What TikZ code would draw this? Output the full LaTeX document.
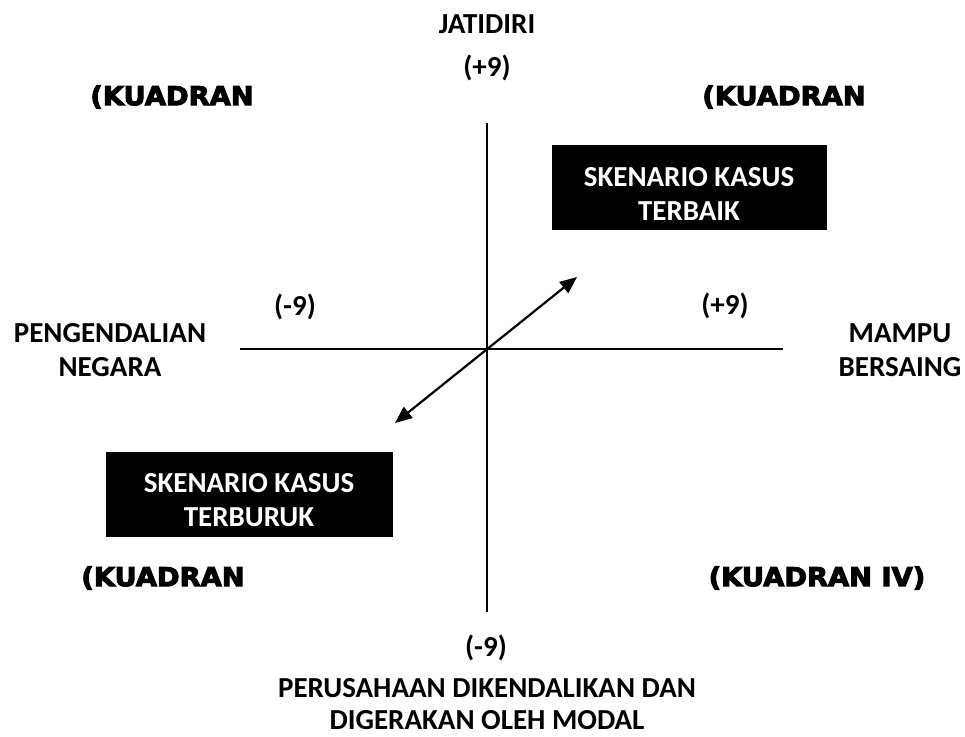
\documentclass[tikz,border=0pt]{standalone}
\usepackage{fontspec}
\setmainfont{Carlito}
\newfontfamily\quadfont{DejaVu Sans}[BoldFeatures={FakeBold=4,FakeStretch=1.05}]
\usepackage{tikz}
\usetikzlibrary{positioning,arrows.meta}
\usepackage{xcolor}
\definecolor{scenbg}{RGB}{0,0,0}

\tikzset{
  axislabel/.style={font=\fontsize{29}{34}\selectfont\bfseries,align=center,inner sep=0pt},
  quadlabel/.style={font=\quadfont\fontsize{26}{30}\selectfont\bfseries,inner sep=0pt},
  scenbox/.style={rectangle,fill=scenbg,text=white,font=\fontsize{29}{34}\selectfont\bfseries,
      align=center,minimum width=275pt,minimum height=85pt,inner sep=0pt},
  axis/.style={line width=1.6pt},
}

\begin{document}
\begin{tikzpicture}[x=1pt,y=-1pt]
\useasboundingbox (0,0) rectangle (965,736);
% axes
\coordinate (top) at (487,123);
\coordinate (bottom) at (487,612);
\coordinate (left) at (240,349);
\coordinate (right) at (783,349);
\draw[axis] (top) -- (bottom);
\draw[axis] (left) -- (right);
% axis labels
\node[axislabel] (jatidiri) at (487,24) {JATIDIRI};
\node[axislabel] (plustop) at (487,68) {(+9)};
\node[axislabel] (minusbottom) at (486,648) {(-9)};
\node[axislabel,font=\fontsize{29}{32}\selectfont\bfseries] (modal) at (487,704)
  {PERUSAHAAN DIKENDALIKAN DAN\\DIGERAKAN OLEH MODAL};
\node[axislabel] (minusleft) at (295,307) {(-9)};
\node[axislabel] (plusright) at (725,306) {(+9)};
\node[axislabel] (negara) at (110,350) {PENGENDALIAN\\NEGARA};
\node[axislabel] (bersaing) at (900,350) {MAMPU\\BERSAING};
% quadrants
\node[quadlabel] (kuadran1) at (172,97) {(KUADRAN};
\node[quadlabel] (kuadran2) at (784,97) {(KUADRAN};
\node[quadlabel] (kuadran3) at (163,578) {(KUADRAN};
\node[quadlabel] (kuadran4) at (817,578) {(KUADRAN IV)};
% scenarios
\node[scenbox] (terbaik) at (689,187) {\rule{0pt}{32pt}SKENARIO KASUS\\TERBAIK};
\node[scenbox,minimum width=287pt] (terburuk) at (249,494) {\rule{0pt}{32pt}SKENARIO KASUS\\TERBURUK};
\coordinate (worst) at (395,423);
\coordinate (best) at (577,277);
\draw[line width=2.2pt,{Triangle[length=17pt,width=14pt]}-{Triangle[length=17pt,width=14pt]}] (worst) -- (best);
\end{tikzpicture}
\end{document}
